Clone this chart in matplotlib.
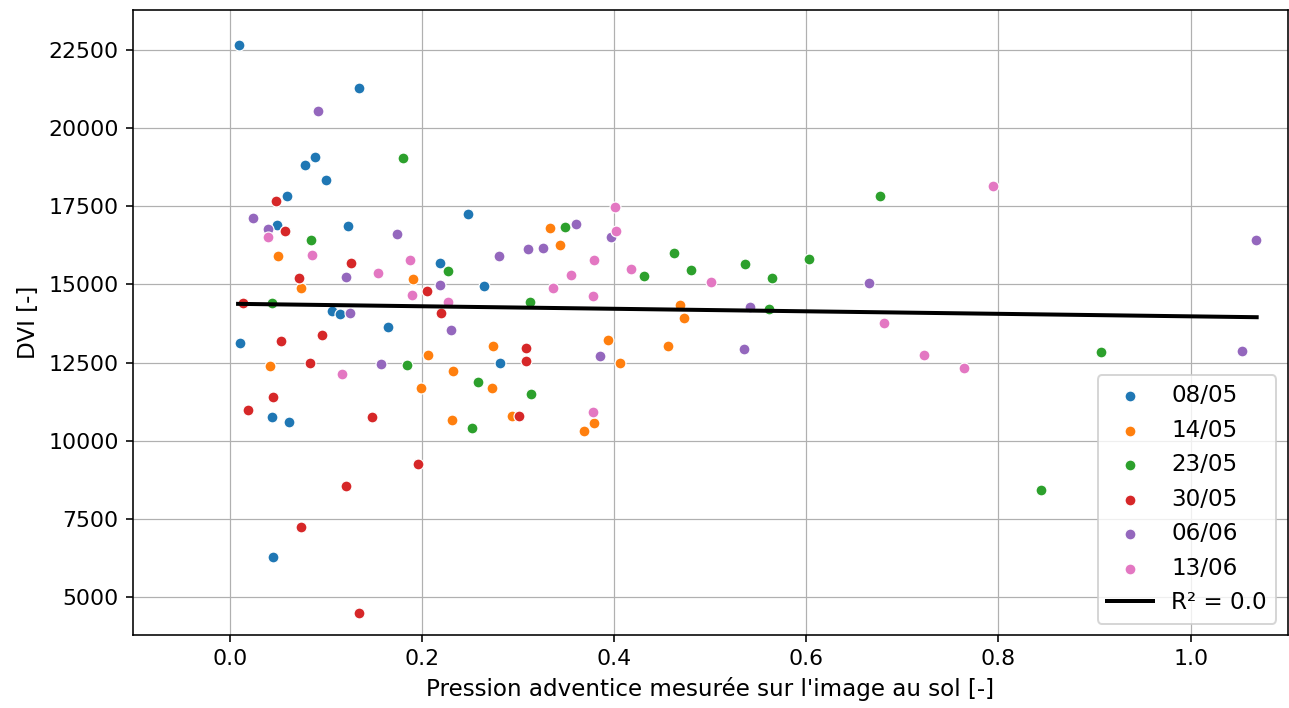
import numpy as np
import matplotlib
matplotlib.use("Agg")
import matplotlib.pyplot as plt

# Pression adventice (x) et DVI (y) par date de prise de vue
dates = ["08/05", "14/05", "23/05", "30/05", "06/06", "13/06"]
colors = ["#1f77b4", "#ff7f0e", "#2ca02c", "#d62728", "#9467bd", "#e377c2"]

x_0805 = [0.0097, 0.1345, 0.0885, 0.0778, 0.1006, 0.0591, 0.0494, 0.1227, 0.1061, 0.1144,
          0.1646, 0.0104, 0.0443, 0.0619, 0.0453, 0.2475, 0.2185, 0.2641, 0.2813]
y_0805 = [22660, 21282, 19071, 18814, 18343, 17821, 16901, 16859, 14154, 14039,
          13654, 13129, 10747, 10587, 6292, 17263, 15673, 14946, 12478]

x_1405 = [0.0505, 0.0736, 0.0418, 0.1911, 0.2741, 0.2067, 0.2320, 0.1988, 0.2727, 0.2316,
          0.2935, 0.3685, 0.3329, 0.3436, 0.4690, 0.4725, 0.3934, 0.4065, 0.4556, 0.3792]
y_1405 = [15907, 14872, 12404, 15161, 13045, 12744, 12244, 11699, 11677, 10673,
          10801, 10298, 16805, 16270, 14337, 13911, 13237, 12478, 13033, 10577]

x_2305 = [0.0840, 0.0439, 0.1804, 0.2274, 0.3488, 0.3121, 0.1846, 0.2582, 0.3135, 0.2523,
          0.4314, 0.4625, 0.4798, 0.5361, 0.5638, 0.6032, 0.5607, 0.6769, 0.9067, 0.8441]
y_2305 = [16420, 14411, 19058, 15427, 16846, 14443, 12436, 11891, 11484, 10395,
          15266, 16013, 15449, 15641, 15193, 15801, 14199, 17830, 12831, 8430]

x_3005 = [0.0484, 0.0570, 0.1265, 0.0723, 0.0138, 0.0532, 0.0964, 0.0837, 0.0453, 0.0190,
          0.1483, 0.1206, 0.0739, 0.1345, 0.2056, 0.2202, 0.3083, 0.3080, 0.3010, 0.1957]
y_3005 = [17680, 16709, 15693, 15202, 14401, 13205, 13398, 12488, 11398, 10981,
          10770, 8568, 7254, 4497, 14776, 14071, 12959, 12542, 10779, 9263]

x_0606 = [0.0920, 0.0242, 0.0397, 0.1742, 0.1206, 0.1248, 0.1576, 0.2188, 0.2299, 0.2803,
          0.3108, 0.3256, 0.3602, 0.3965, 0.5413, 0.3855, 0.5348, 1.0681, 0.6655, 1.0539]
y_0606 = [20532, 17125, 16763, 16603, 15244, 14080, 12456, 14988, 13558, 15898,
          16122, 16164, 16923, 16526, 14282, 12725, 12949, 16430, 15032, 12885]

x_1306 = [0.0397, 0.0854, 0.1538, 0.1169, 0.1874, 0.1894, 0.2271, 0.3554, 0.3360, 0.4013,
          0.4017, 0.3795, 0.4172, 0.5009, 0.3778, 0.3785, 0.7947, 0.6810, 0.7225, 0.7643]
y_1306 = [16526, 15939, 15362, 12148, 15789, 14667, 14433, 15308, 14891, 17487,
          16699, 15789, 15500, 15074, 14616, 10917, 18151, 13770, 12757, 12318]

# droite de régression
fit_x = [0.0086, 1.0687]
fit_y = [14379, 13952]
r2 = 0.0

xs = [x_0805, x_1405, x_2305, x_3005, x_0606, x_1306]
ys = [y_0805, y_1405, y_2305, y_3005, y_0606, y_1306]

plt.rcParams['font.size'] = 11
fig = plt.figure(figsize=(1289 / 144, 708 / 144), dpi=144)
ax = fig.add_axes([0.103, 0.103, 0.896, 0.883])

for d, c, x, y in zip(dates, colors, xs, ys):
    ax.scatter(x, y, s=30, color=c, edgecolors='white', linewidths=0.6, label=d, zorder=3)

ax.plot(fit_x, fit_y, color='black', linewidth=2, label='R² = ' + str(r2), zorder=4)

ax.set_xlim(-0.101, 1.101)
ax.set_ylim(3786, 23780)
ax.grid(True, color='#b0b0b0', linewidth=0.6)
ax.set_axisbelow(True)
ax.set_xlabel("Pression adventice mesurée sur l'image au sol [-]", fontsize=11.5)
ax.set_ylabel('DVI [-]', fontsize=11.5)
ax.legend(loc='lower right', fontsize=11.5)

fig.savefig('out.png', dpi=144)
